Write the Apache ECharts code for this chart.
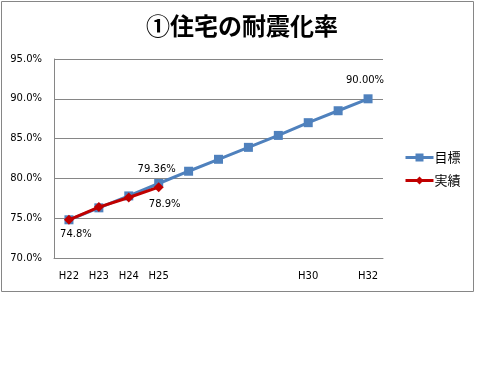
<!DOCTYPE html>
<html><head><meta charset="utf-8">
<script src="https://cdn.jsdelivr.net/npm/echarts@6/dist/echarts.min.js"></script>
<style>html,body{margin:0;padding:0;background:#fff}#c{width:500px;height:375px}</style>
</head><body><div id="c"></div>
<script>
const titleText = '①住宅の耐震化率';
const categories = ['H22','H23','H24','H25','H26','H27','H28','H29','H30','H31','H32'];
const shownTickLabels = ['H22','H23','H24','H25','H30','H32'];
const targetName = '目標';
const actualName = '実績';
const targetValues = [74.8, 76.3, 77.8, 79.36, 80.9, 82.4, 83.9, 85.4, 87.0, 88.5, 90.0];
const actualValues = [74.8, 76.4, 77.6, 78.9, null, null, null, null, null, null, null];
const targetLabels = {3: '79.36%', 10: '90.00%'};
const actualLabels = {0: '74.8%', 3: '78.9%'};

const labelStyle = {fontFamily:'DejaVu Sans', fontSize:10, color:'#000'};
const targetLabelPos = {3:{position:'top', offset:[-2,0]}, 10:{position:'top', offset:[-3,-4]}};
const actualLabelPos = {0:{position:'bottom', offset:[7,0]}, 3:{position:'bottom', offset:[6,2]}};

function build(values, labels, pos){
  return values.map((v,i)=>{
    if (labels[i] !== undefined) {
      return {value:v, label:Object.assign({show:true, formatter:labels[i], distance:5}, labelStyle, pos[i])};
    }
    return v;
  });
}

const chart = echarts.init(document.getElementById('c'), null, {renderer:'canvas'});
chart.setOption({
  animation:false,
  backgroundColor:'#fff',
  title:{text:titleText, left:237, textAlign:'center', top:9,
    textStyle:{fontFamily:'Noto Sans CJK JP', fontWeight:'bold', fontSize:24, color:'#000'}},
  graphic:[{type:'rect', shape:{x:1.5,y:1.5,width:472,height:290}, style:{fill:'none', stroke:'#868686', lineWidth:1}, z:-1}],
  grid:{left:54, right:117, top:59, bottom:117},
  legend:{orient:'vertical', left:399, top:146, itemWidth:28, itemHeight:10, itemGap:10,
    lineStyle:{width:3},
    textStyle:{fontFamily:'Noto Sans CJK JP', fontSize:13, color:'#000', padding:[0,0,0,-4]},
    data:[targetName, actualName]},
  xAxis:{type:'category', data:categories, boundaryGap:true,
    axisLine:{lineStyle:{color:'#868686'}}, axisTick:{show:false},
    axisLabel:{interval:0, margin:13, fontFamily:'DejaVu Sans', fontSize:10, color:'#000',
      formatter:v=>shownTickLabels.includes(v)?v:''}},
  yAxis:{type:'value', min:70, max:95, interval:5,
    axisLine:{show:true, lineStyle:{color:'#868686'}}, axisTick:{show:false},
    splitLine:{lineStyle:{color:'#868686'}},
    axisLabel:{margin:12, fontFamily:'DejaVu Sans', fontSize:10, color:'#000', formatter:v=>v.toFixed(1)+'%'}},
  series:[
    {name:targetName, type:'line', data:build(targetValues, targetLabels, targetLabelPos),
      symbol:'rect', symbolSize:9, lineStyle:{width:3, color:'#4F81BD'}, itemStyle:{color:'#4F81BD'}, z:2},
    {name:actualName, type:'line', data:build(actualValues, actualLabels, actualLabelPos),
      symbol:'diamond', symbolSize:10, lineStyle:{width:3, color:'#C00000'}, itemStyle:{color:'#C00000'}, z:3}
  ]
});
</script></body></html>
